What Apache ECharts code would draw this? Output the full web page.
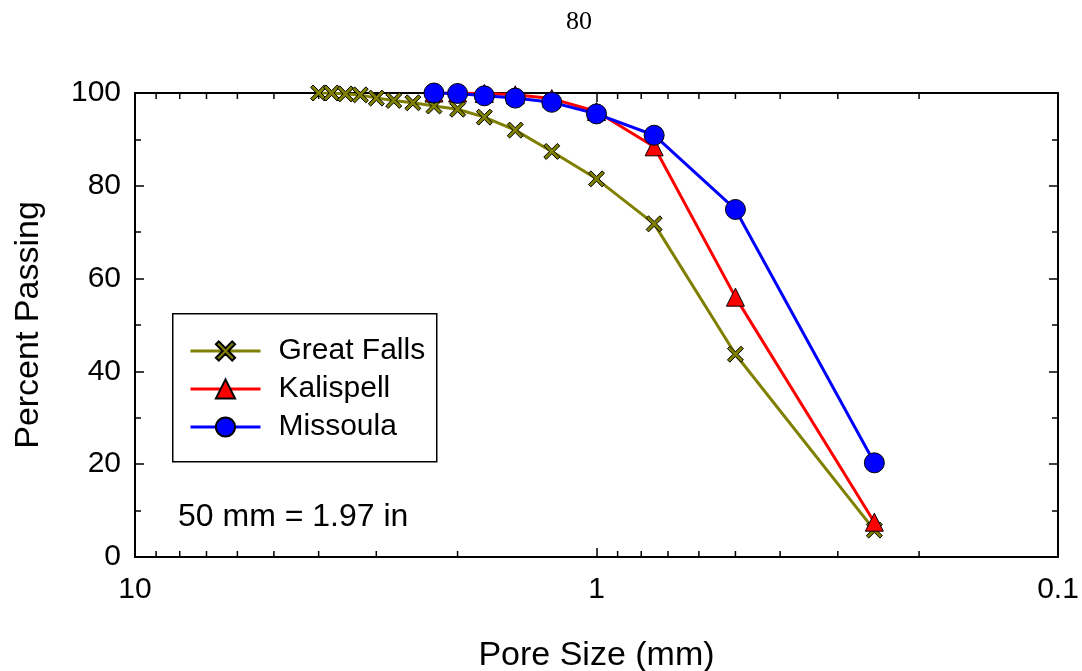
<!DOCTYPE html>
<html>
<head>
<meta charset="utf-8">
<script src="https://cdn.jsdelivr.net/npm/echarts@6/dist/echarts.min.js"></script>
<style>
  html, body { margin: 0; padding: 0; background: #fff; }
  #chart { width: 1082px; height: 671px; }
</style>
</head>
<body>
<div id="chart"></div>
<script>
// Pore sizes (mm) of the sieve openings
const sizesGreatFalls = [4.0, 3.75, 3.5, 3.25, 3.0, 2.75, 2.5, 2.25, 2.0, 1.75, 1.5, 1.25, 1.0, 0.75, 0.5, 0.25];
const sizesOther = [2.25, 2.0, 1.75, 1.5, 1.25, 1.0, 0.75, 0.5, 0.25];

// Percent passing for each site
const greatFalls = [100, 100, 99.8, 99.6, 98.9, 98.4, 97.9, 97.2, 96.5, 94.8, 92.0, 87.4, 81.5, 71.8, 43.7, 5.8];
const kalispell = [100, 100, 99.9, 99.6, 98.8, 96.0, 88.4, 56.0, 7.5];
const missoula = [100, 99.9, 99.4, 98.9, 98.0, 95.5, 90.9, 74.9, 20.3];

// Minor tick positions on the log axis
const minorTicksX = [9, 8, 7, 6, 5, 4, 3, 2, 0.9, 0.8, 0.7, 0.6, 0.5, 0.4, 0.3, 0.2];

const FONT = 'Liberation Sans, Arial, sans-serif';
const crossPath = 'path://M0,3 L3,0 L10,7 L17,0 L20,3 L13,10 L20,17 L17,20 L10,13 L3,20 L0,17 L7,10 Z';

function pairs(xs, ys) { return xs.map((x, i) => [x, ys[i]]); }

const chart = echarts.init(document.getElementById('chart'), null, { renderer: 'canvas' });

const xAxisBase = {
  type: 'log', logBase: 10, min: 0.1, max: 10, inverse: true,
  axisLine: { show: true, onZero: false, lineStyle: { color: '#000', width: 2 } },
  axisTick: { show: true, inside: true, length: 9, lineStyle: { color: '#000', width: 1.5 } },
  splitLine: { show: false }
};
const yAxisBase = {
  type: 'value', min: 0, max: 100, interval: 20,
  axisLine: { show: true, lineStyle: { color: '#000', width: 2 } },
  axisTick: { show: true, inside: true, length: 9, lineStyle: { color: '#000', width: 1.5 } },
  minorTick: { show: true, splitNumber: 2, length: 6, lineStyle: { color: '#000', width: 1.5 } },
  splitLine: { show: false }
};

chart.setOption({
  backgroundColor: '#fff',
  animation: false,
  grid: { left: 135, right: 24, top: 93, bottom: 114, containLabel: false, outerBoundsMode: 'none' },
  xAxis: [
    Object.assign({}, xAxisBase, {
      position: 'bottom',
      name: 'Pore Size (mm)', nameLocation: 'middle', nameGap: 82,
      nameTextStyle: { fontFamily: FONT, fontSize: 34, color: '#000' },
      axisLabel: {
        show: true, margin: 18, fontFamily: FONT, fontSize: 30, color: '#000',
        formatter: v => String(v)
      }
    }),
    Object.assign({}, xAxisBase, { position: 'top', axisLabel: { show: false } })
  ],
  yAxis: [
    Object.assign({}, yAxisBase, {
      position: 'left',
      name: 'Percent Passing', nameLocation: 'middle', nameGap: 89, nameRotate: 90,
      nameTextStyle: { fontFamily: FONT, fontSize: 34, color: '#000' },
      axisLabel: { show: true, margin: 14, fontFamily: FONT, fontSize: 30, color: '#000' }
    }),
    Object.assign({}, yAxisBase, { position: 'right', axisLabel: { show: false } })
  ],
  legend: {
    orient: 'vertical', left: 189, top: 336, padding: 0,
    itemWidth: 70, itemHeight: 24, itemGap: 8,
    data: ['Great Falls', 'Kalispell', 'Missoula'],
    lineStyle: { width: 3 },
    textStyle: { fontFamily: FONT, fontSize: 30, lineHeight: 30, color: '#000', padding: [0, 0, 0, 13] },
    selectedMode: false
  },
  graphic: [
    {
      type: 'text', x: 579, y: 22, z: 5,
      style: { text: '80', fontFamily: 'Liberation Serif, Times New Roman, serif', fontSize: 26,
               fill: '#000', align: 'center', verticalAlign: 'middle' }
    },
    {
      type: 'rect', left: 172, top: 313, z: 3,
      shape: { width: 264, height: 148 },
      style: { fill: '#fff', stroke: '#000', lineWidth: 1.5 }
    },
    {
      type: 'text', x: 178, y: 517, z: 5,
      style: { text: '50 mm = 1.97 in', fontFamily: FONT, fontSize: 32, fill: '#000', verticalAlign: 'middle' }
    }
  ],
  series: [
    {
      type: 'custom', name: 'minorTicks', silent: true, z: 1,
      xAxisIndex: 0, yAxisIndex: 0,
      data: minorTicksX.map(v => [v, 0]),
      encode: { x: 0, y: 1 },
      clip: false,
      renderItem: function (params, api) {
        const v = api.value(0);
        const b = api.coord([v, 0]);
        const t = api.coord([v, 100]);
        const st = { stroke: '#000', lineWidth: 1.5 };
        return {
          type: 'group',
          children: [
            { type: 'line', shape: { x1: b[0], y1: b[1], x2: b[0], y2: b[1] - 6 }, style: st },
            { type: 'line', shape: { x1: t[0], y1: t[1], x2: t[0], y2: t[1] + 6 }, style: st }
          ]
        };
      }
    },
    {
      name: 'Great Falls', type: 'line', z: 2,
      data: pairs(sizesGreatFalls, greatFalls),
      symbol: crossPath, symbolSize: 16,
      lineStyle: { color: '#808000', width: 3 },
      itemStyle: { color: '#808000', borderColor: '#000', borderWidth: 1 }
    },
    {
      name: 'Kalispell', type: 'line', z: 3,
      data: pairs(sizesOther, kalispell),
      symbol: 'triangle', symbolSize: 18,
      lineStyle: { color: '#ff0000', width: 3 },
      itemStyle: { color: '#ff0000', borderColor: '#000', borderWidth: 1 }
    },
    {
      name: 'Missoula', type: 'line', z: 4,
      data: pairs(sizesOther, missoula),
      symbol: 'circle', symbolSize: 20,
      lineStyle: { color: '#0000ff', width: 3 },
      itemStyle: { color: '#0000ff', borderColor: '#000', borderWidth: 1 }
    }
  ]
});
</script>
</body>
</html>
